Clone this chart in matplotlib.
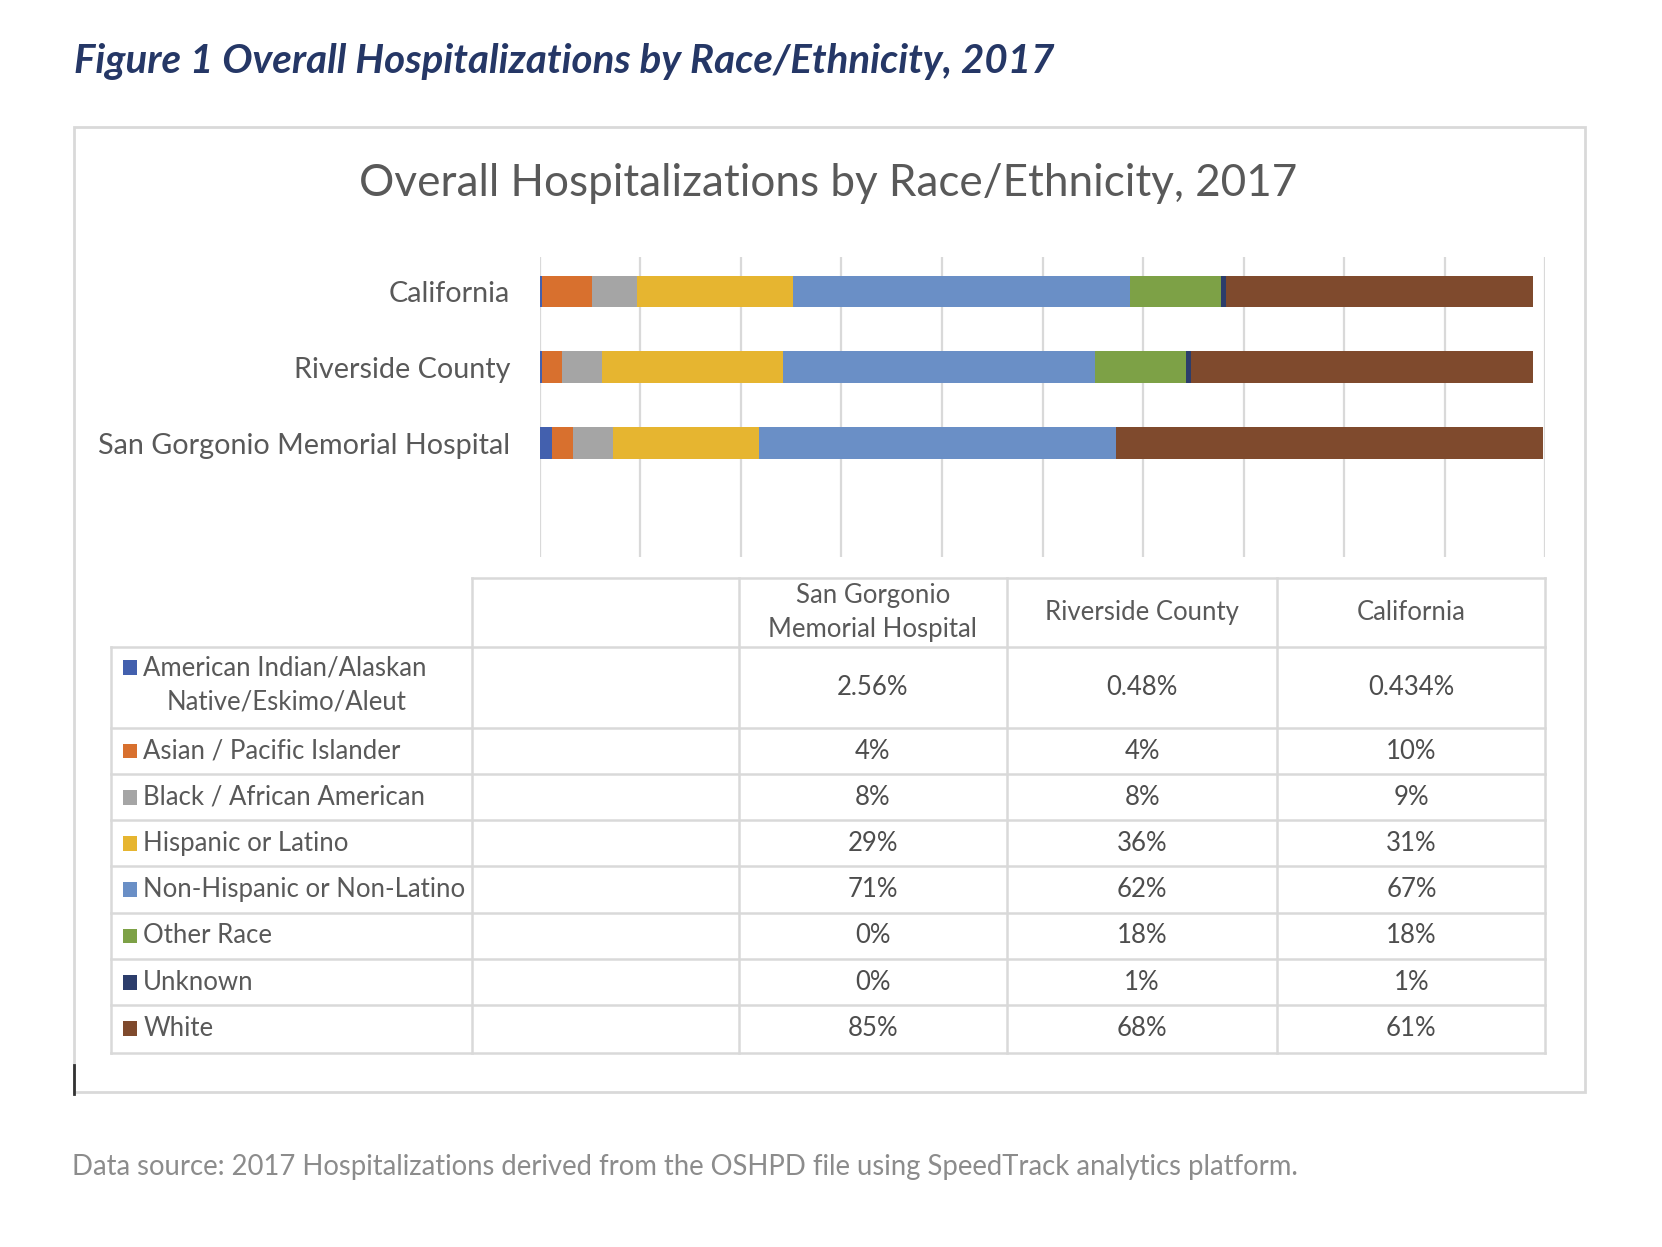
import matplotlib
matplotlib.use("Agg")
import matplotlib.pyplot as plt
from matplotlib.patches import Rectangle

# ---------------- data ----------------
categories = ["San Gorgonio Memorial Hospital", "Riverside County", "California"]
races = ["American Indian/Alaskan\nNative/Eskimo/Aleut", "Asian / Pacific Islander",
         "Black / African American", "Hispanic or Latino", "Non-Hispanic or Non-Latino",
         "Other Race", "Unknown", "White"]
san_gorgonio = [2.56, 4, 8, 29, 71, 0, 0, 85]
riverside = [0.48, 4, 8, 36, 62, 18, 1, 68]
california = [0.434, 10, 9, 31, 67, 18, 1, 61]
colors = ["#4360AE", "#D8702E", "#A5A5A5", "#E6B530", "#6A8FC6", "#7DA146", "#2C3D6B", "#7F4A2D"]
header_labels = ["San Gorgonio\nMemorial Hospital", "Riverside County", "California"]

series_by_cat = [san_gorgonio, riverside, california]

W, H = 1662, 1247
S = 1.06  # display->pixel scale used for layout

fig = plt.figure(figsize=(W / 100, H / 100), dpi=100)
fig.patch.set_facecolor("white")

FONT = "Lato"
TFS = 18.5  # table font size

# overlay in pixel coordinates
ov = fig.add_axes([0, 0, 1, 1])
ov.set_xlim(0, W)
ov.set_ylim(H, 0)
ov.axis("off")

def P(v):
    return v * S

# figure title
ov.text(P(70), P(58), "Figure 1 Overall Hospitalizations by Race/Ethnicity, 2017",
        fontsize=29, fontweight="bold", fontstyle="italic", color="#253766",
        family=FONT, ha="left", va="center")

# chart box
ov.add_patch(Rectangle((P(70), P(120)), P(1495 - 70), P(1030 - 120), fill=False,
                       edgecolor="#D9D9D9", lw=2))
ov.plot([P(70), P(70)], [P(1005), P(1032)], color="#333333", lw=2)

# chart title
ov.text(P(781), P(173), "Overall Hospitalizations by Race/Ethnicity, 2017",
        fontsize=31.7, color="#595959", family=FONT, ha="center", va="center")

# footnote
ov.text(P(68), P(1101), "Data source: 2017 Hospitalizations derived from the OSHPD file using SpeedTrack analytics platform.",
        fontsize=19.8, color="#8C8C8C", family=FONT, ha="left", va="center")

# ---------------- bar chart ----------------
x0, x1 = P(509), P(1458)
y0, y1 = P(242), P(525)
ax = fig.add_axes([x0 / W, 1 - y1 / H, (x1 - x0) / W, (y1 - y0) / H])
ax.set_xlim(0, 200)
ax.set_ylim(-1.49, 2.46)
ypos = list(range(len(categories)))
left = [0.0] * len(categories)
for i, col in enumerate(colors):
    vals = [s[i] for s in series_by_cat]
    ax.barh(ypos, vals, left=left, height=0.42, color=col, edgecolor="none", zorder=3)
    left = [l + v for l, v in zip(left, vals)]
ax.set_xticks(range(0, 201, 20))
ax.xaxis.grid(True, color="#D9D9D9", lw=1.6, zorder=0)
ax.tick_params(axis="x", length=0, labelbottom=False)
ax.set_yticks(ypos)
ax.set_yticklabels(categories, fontsize=20.7, color="#595959", family=FONT)
ax.tick_params(axis="y", length=0, pad=21)
for sp in ax.spines.values():
    sp.set_visible(False)
ax.set_facecolor("none")

# ---------------- data table ----------------
cols = [105, 445, 697, 950, 1205, 1458]
rows = [545, 610, 687, 730, 774, 817, 861, 905, 948, 993]
lc = "#D9D9D9"
lw = 1.8
# horizontal lines
ov.plot([P(445), P(1458)], [P(rows[0])] * 2, color=lc, lw=lw)
for r in rows[1:]:
    ov.plot([P(105), P(1458)], [P(r)] * 2, color=lc, lw=lw)
# vertical lines
ov.plot([P(105)] * 2, [P(rows[1]), P(rows[-1])], color=lc, lw=lw)
for c in cols[1:]:
    ov.plot([P(c)] * 2, [P(rows[0]), P(rows[-1])], color=lc, lw=lw)

# headers
for j, h in enumerate(header_labels):
    cx = (cols[j + 2] + cols[j + 3]) / 2
    ov.text(P(cx), P((rows[0] + rows[1]) / 2), h, fontsize=TFS, color="#595959",
            family=FONT, ha="center", va="center", multialignment="center", linespacing=1.45)

# row labels and values
for i, race in enumerate(races):
    top, bot = rows[i + 1], rows[i + 2]
    cy = (top + bot) / 2
    if "\n" in race:
        ty = top + 20
        ov.add_patch(Rectangle((P(116), P(ty - 7)), P(13), P(14), color=colors[i], lw=0))
        ov.text(P(135), P(ty), race.split("\n")[0], fontsize=TFS, color="#595959",
                family=FONT, ha="left", va="center")
        ov.text(P(270), P(ty + 32), race.split("\n")[1], fontsize=TFS, color="#595959",
                family=FONT, ha="center", va="center")
    else:
        ov.add_patch(Rectangle((P(116), P(cy - 7)), P(13), P(14), color=colors[i], lw=0))
        ov.text(P(135), P(cy), race, fontsize=TFS, color="#595959",
                family=FONT, ha="left", va="center")
    for j, ser in enumerate(series_by_cat):
        cx = (cols[j + 2] + cols[j + 3]) / 2
        ov.text(P(cx), P(cy), f"{ser[i]:g}%", fontsize=TFS, color="#4D4D4D",
                family=FONT, ha="center", va="center")

fig.savefig("out.png", dpi=100)
